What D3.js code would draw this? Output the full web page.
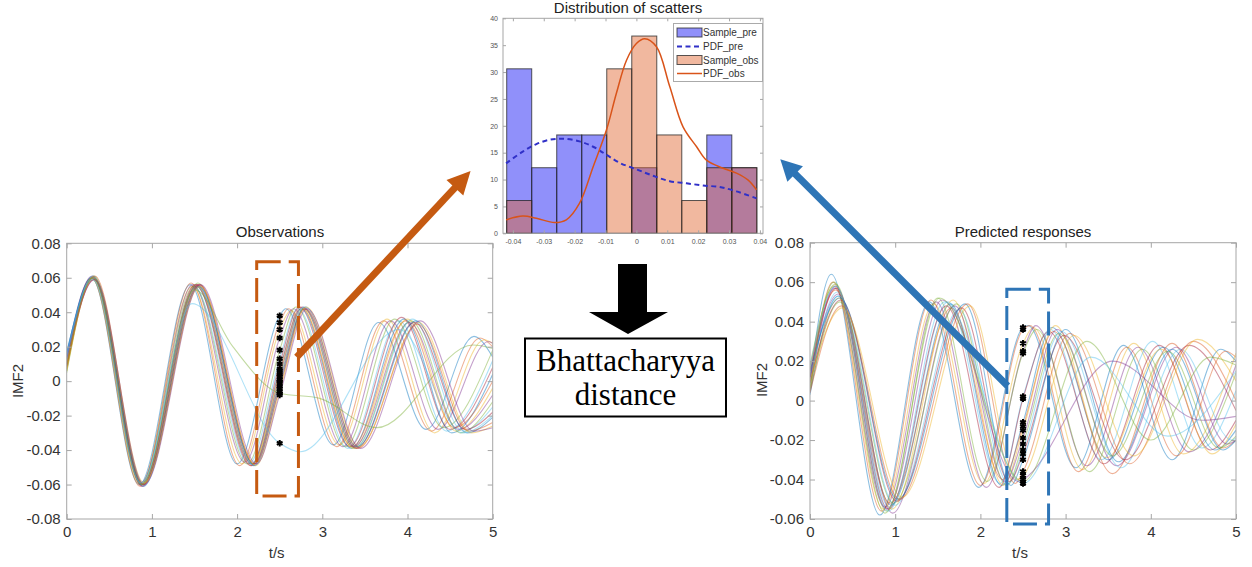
<!DOCTYPE html>
<html><head><meta charset="utf-8">
<script src="https://cdn.jsdelivr.net/npm/d3@7"></script>
<style>
body{margin:0;background:#fff}
svg{display:block}
text{font-family:Arial,"Liberation Sans",sans-serif}
</style>
</head><body>
<svg id="c" width="1252" height="567"></svg>
<script>
// ---------------- DATA ----------------
const lineColors = ["#0072BD","#D95319","#EDB120","#7E2F8E","#77AC30","#4DBEEE","#A2142F"];
const probeTime = 2.5;

// Histogram (Distribution of scatters)
const histBinStart = -0.042;
const histBinWidth = 0.0081;
const histPre = [30.6, 12.2, 18.3, 18.3, 0, 12.2, 0, 0, 18.3, 12.2];
const histObs = [6.1, 0, 0, 0, 30.6, 36.7, 18.3, 6.1, 12.2, 12.2];
const histXTicks = [-0.04,-0.03,-0.02,-0.01,0,0.01,0.02,0.03,0.04];
const histYTicks = [0,5,10,15,20,25,30,35,40];
const pdfPre = [[-0.0422,13.0],[-0.0368,15.2],[-0.0324,16.6],[-0.0281,17.4],[-0.0238,17.6],[-0.0184,17.1],[-0.014,16.1],[-0.0097,14.6],[-0.0054,13.1],[0,11.9],[0.0054,10.7],[0.0108,9.7],[0.0162,9.3],[0.0216,8.9],[0.027,8.6],[0.0324,7.8],[0.0389,6.5]];
const pdfObs = [[-0.0422,2.5],[-0.0368,3.2],[-0.0324,2.8],[-0.0265,2.0],[-0.0227,2.5],[-0.0184,5.6],[-0.014,12.4],[-0.0097,19.2],[-0.0065,26],[-0.0032,32.2],[0,35.3],[0.0027,36.2],[0.0065,34.7],[0.0108,27.3],[0.0151,19.8],[0.0195,16.1],[0.0227,13.6],[0.0281,12.1],[0.0324,11.2],[0.0362,9.9],[0.0389,8.1]];
const legendLabels = ["Sample_pre","PDF_pre","Sample_obs","PDF_obs"];

// Observations: each curve = points [t, IMF2] (extrema + value at t=2.5)
const obsCurves = [
 [[0,0.012],[0.29,0.060],[0.85,-0.060],[1.45,0.056],[2.00,-0.048],[2.5,0.038],[2.57,0.042],[3.13,-0.037],[3.66,0.034],[4.22,-0.028],[4.78,0.026],[5,0.014]],
 [[0,0.010],[0.29,0.060],[0.86,-0.061],[1.46,0.057],[2.03,-0.049],[2.5,0.034],[2.60,0.042],[3.17,-0.038],[3.72,0.035],[4.28,-0.029],[4.85,0.025],[5,0.020]],
 [[0,0.008],[0.30,0.059],[0.86,-0.060],[1.47,0.055],[2.06,-0.048],[2.5,0.030],[2.63,0.041],[3.20,-0.037],[3.76,0.036],[4.32,-0.030],[4.90,0.024],[5,0.022]],
 [[0,0.015],[0.30,0.061],[0.87,-0.059],[1.48,0.056],[2.09,-0.047],[2.5,0.025],[2.66,0.042],[3.24,-0.038],[3.80,0.035],[4.36,-0.028],[4.95,0.023],[5,0.022]],
 [[0,0.006],[0.30,0.060],[0.87,-0.060],[1.49,0.055],[2.12,-0.048],[2.5,0.018],[2.69,0.043],[3.27,-0.038],[3.85,0.036],[4.42,-0.027],[5,0.018]],
 [[0,0.013],[0.31,0.059],[0.88,-0.059],[1.50,0.054],[2.14,-0.048],[2.5,0.013],[2.71,0.042],[3.30,-0.039],[3.90,0.035],[4.46,-0.029],[5,0.012]],
 [[0,0.009],[0.31,0.060],[0.88,-0.061],[1.51,0.056],[2.16,-0.049],[2.5,0.010],[2.73,0.043],[3.32,-0.038],[3.93,0.037],[4.50,-0.028],[5,0.008]],
 [[0,0.016],[0.31,0.061],[0.88,-0.060],[1.52,0.055],[2.17,-0.048],[2.5,0.007],[2.75,0.042],[3.34,-0.039],[3.96,0.036],[4.52,-0.030],[5,0.004]],
 [[0,0.007],[0.31,0.060],[0.89,-0.059],[1.52,0.056],[2.17,-0.049],[2.5,0.006],[2.75,0.043],[3.35,-0.038],[3.98,0.035],[4.55,-0.027],[5,0.000]],
 [[0,0.011],[0.32,0.059],[0.89,-0.060],[1.53,0.055],[2.18,-0.048],[2.5,0.004],[2.76,0.042],[3.36,-0.039],[4.00,0.036],[4.57,-0.029],[5,-0.004]],
 [[0,0.014],[0.32,0.060],[0.89,-0.061],[1.53,0.056],[2.19,-0.049],[2.5,0.003],[2.77,0.043],[3.37,-0.038],[4.02,0.034],[4.60,-0.028],[5,-0.008]],
 [[0,0.005],[0.32,0.061],[0.90,-0.060],[1.54,0.057],[2.19,-0.048],[2.5,0.001],[2.78,0.042],[3.38,-0.039],[4.04,0.035],[4.62,-0.030],[5,-0.012]],
 [[0,0.012],[0.31,0.060],[0.90,-0.059],[1.54,0.055],[2.20,-0.049],[2.5,0.000],[2.78,0.043],[3.39,-0.038],[4.06,0.036],[4.65,-0.029],[5,-0.015]],
 [[0,0.008],[0.32,0.059],[0.89,-0.060],[1.55,0.056],[2.20,-0.048],[2.5,-0.001],[2.79,0.042],[3.40,-0.039],[4.08,0.034],[4.68,-0.028],[5,-0.018]],
 [[0,0.017],[0.32,0.060],[0.90,-0.061],[1.55,0.055],[2.21,-0.049],[2.5,-0.003],[2.80,0.043],[3.41,-0.038],[4.10,0.035],[4.70,-0.030],[5,-0.021]],
 [[0,0.010],[0.33,0.061],[0.90,-0.060],[1.56,0.056],[2.21,-0.048],[2.5,-0.004],[2.80,0.042],[3.42,-0.039],[4.12,0.033],[4.72,-0.029],[5,-0.024]],
 [[0,0.006],[0.32,0.060],[0.91,-0.059],[1.56,0.055],[2.22,-0.049],[2.5,-0.006],[2.81,0.043],[3.43,-0.038],[4.13,0.034],[4.75,-0.030],[5,-0.026]],
 [[0,0.013],[0.33,0.059],[0.91,-0.060],[1.57,0.056],[2.23,-0.048],[2.5,-0.008],[2.82,0.042],[3.45,-0.039],[4.15,0.035],[4.78,-0.029],[5,-0.027]],
 [[0,0.009],[0.31,0.060],[0.88,-0.060],[1.50,0.053],[1.95,0.020],[2.5,-0.007],[2.97,-0.010],[3.64,-0.027],[4.77,0.021],[5,0.019]],
 [[0,0.015],[0.30,0.059],[0.87,-0.059],[1.47,0.045],[2.5,-0.036],[2.74,-0.041],[3.90,0.030],[4.65,-0.030],[5,-0.020]]
];

// Predicted responses
const preCurves = [
 [[0,0.010],[0.25,0.064],[0.82,-0.058],[1.40,0.050],[1.98,-0.044],[2.5,0.037],[2.56,0.038],[3.12,-0.034],[3.68,0.028],[4.25,-0.030],[4.82,0.026],[5,0.020]],
 [[0,0.006],[0.27,0.060],[0.84,-0.056],[1.42,0.051],[2.00,-0.043],[2.5,0.036],[2.58,0.038],[3.15,-0.036],[3.72,0.027],[4.30,-0.028],[4.88,0.025],[5,0.022]],
 [[0,0.014],[0.28,0.058],[0.86,-0.055],[1.45,0.049],[2.04,-0.042],[2.5,0.029],[2.62,0.037],[3.20,-0.035],[3.80,0.029],[4.38,-0.027],[5,0.024]],
 [[0,0.004],[0.29,0.057],[0.88,-0.054],[1.48,0.050],[2.07,-0.044],[2.5,0.025],[2.65,0.038],[3.25,-0.033],[3.85,0.027],[4.45,-0.026],[5,0.018]],
 [[0,0.018],[0.30,0.059],[0.90,-0.056],[1.50,0.052],[2.08,-0.041],[2.5,0.024],[2.66,0.036],[3.28,-0.036],[3.90,0.026],[4.50,-0.025],[5,0.014]],
 [[0,0.008],[0.32,0.055],[0.93,-0.054],[1.62,0.050],[2.23,-0.042],[2.5,0.002],[2.82,0.036],[3.42,-0.030],[4.02,0.030],[4.60,-0.024],[5,0.005]],
 [[0,0.012],[0.31,0.057],[0.92,-0.055],[1.60,0.048],[2.22,-0.044],[2.5,0.001],[2.80,0.035],[3.45,-0.032],[4.10,0.028],[4.70,-0.025],[5,-0.010]],
 [[0,0.003],[0.33,0.053],[0.95,-0.053],[1.65,0.049],[2.25,-0.043],[2.5,-0.011],[2.84,0.037],[3.50,-0.030],[4.15,0.027],[4.75,-0.025],[5,-0.015]],
 [[0,0.016],[0.30,0.056],[0.94,-0.052],[1.66,0.047],[2.26,-0.040],[2.5,-0.013],[2.86,0.035],[3.55,-0.037],[4.25,0.029],[4.85,-0.024],[5,-0.020]],
 [[0,0.007],[0.34,0.052],[0.96,-0.055],[1.68,0.051],[2.27,-0.043],[2.5,-0.015],[2.88,0.038],[3.48,-0.029],[4.12,0.026],[4.72,-0.027],[5,-0.012]],
 [[0,0.011],[0.33,0.054],[0.97,-0.057],[1.70,0.048],[2.29,-0.041],[2.5,-0.019],[2.90,0.036],[3.60,-0.033],[4.30,0.027],[4.90,-0.022],[5,-0.020]],
 [[0,0.005],[0.35,0.050],[0.98,-0.052],[1.72,0.049],[2.31,-0.043],[2.5,-0.022],[2.92,0.034],[3.55,-0.028],[4.20,0.025],[4.80,-0.024],[5,-0.018]],
 [[0,0.013],[0.34,0.053],[1.00,-0.053],[1.75,0.046],[2.33,-0.042],[2.5,-0.025],[2.95,0.035],[3.65,-0.034],[4.35,0.026],[4.95,-0.020],[5,-0.019]],
 [[0,0.009],[0.36,0.051],[1.02,-0.051],[1.78,0.047],[2.34,-0.041],[2.5,-0.027],[2.98,0.033],[3.70,-0.030],[4.45,0.028],[5,-0.005]],
 [[0,0.015],[0.35,0.052],[1.03,-0.050],[1.82,0.049],[2.36,-0.043],[2.5,-0.030],[3.00,0.036],[3.62,-0.031],[4.25,0.026],[4.85,-0.025],[5,-0.020]],
 [[0,0.004],[0.37,0.048],[1.05,-0.050],[1.85,0.049],[2.41,-0.042],[2.5,-0.036],[3.05,0.034],[3.75,-0.032],[4.50,0.030],[5,0.000]],
 [[0,0.010],[0.38,0.047],[1.08,-0.049],[1.88,0.048],[2.43,-0.040],[2.5,-0.038],[3.10,0.033],[3.80,-0.028],[4.55,0.031],[5,0.010]],
 [[0,0.012],[0.30,0.058],[0.90,-0.055],[1.55,0.051],[2.45,-0.041],[2.5,-0.040],[3.55,0.020],[4.60,-0.010],[5,-0.008]],
 [[0,0.006],[0.28,0.060],[0.88,-0.057],[1.52,0.052],[2.5,-0.041],[3.25,0.030],[4.00,-0.020],[4.70,0.022],[5,0.018]],
 [[0,0.017],[0.30,0.058],[0.92,-0.056],[1.58,0.050],[2.5,-0.042],[3.30,0.022],[4.20,-0.018],[5,0.015]]
];

const respXTicks = [0,1,2,3,4,5];
const obsYTicks = [-0.08,-0.06,-0.04,-0.02,0,0.02,0.04,0.06,0.08];
const preYTicks = [-0.06,-0.04,-0.02,0,0.02,0.04,0.06,0.08];

// ---------------- DRAW ----------------
const svg = d3.select("#c");
const axisColor = "#a6a6a6", labelColor = "#333";
const fmt2 = d => d === 0 ? "0" : d3.format(".2f")(d).replace("−","-");

function frame(g, x, y, xTicks, yTicks, fx, fy, fs, tl, padX, padY) {
  const [x0,x1] = x.range(), [y0,y1] = y.range();
  const mk = (ax, tr, labels) => {
    const a = g.append("g").attr("transform", tr).call(ax);
    a.select(".domain").remove();
    a.selectAll("line").attr("stroke", axisColor);
    a.selectAll("text").attr("fill", labelColor).style("font-size", fs + "px");
    if (!labels) a.selectAll("text").remove();
  };
  mk(d3.axisBottom(x).tickValues(xTicks).tickFormat(fx).tickSize(-tl).tickPadding(padX), `translate(0,${y0})`, true);
  mk(d3.axisTop(x).tickValues(xTicks).tickSize(-tl), `translate(0,${y1})`, false);
  mk(d3.axisLeft(y).tickValues(yTicks).tickFormat(fy).tickSize(-tl).tickPadding(padY), `translate(${x0},0)`, true);
  mk(d3.axisRight(y).tickValues(yTicks).tickSize(-tl), `translate(${x1},0)`, false);
  g.append("rect").attr("x", x0).attr("y", y1).attr("width", x1 - x0).attr("height", y0 - y1)
    .attr("fill", "none").attr("stroke", axisColor).attr("stroke-width", 1);
}

const xL = d3.scaleLinear([0,5],[66.7,492.7]);
const yL = d3.scaleLinear([-0.08,0.08],[519,243.3]);
const xR = d3.scaleLinear([0,5],[810,1236]);
const yR = d3.scaleLinear([-0.06,0.08],[519,242.7]);
const xH = d3.scaleLinear([-0.0432,0.0410],[503,763]);
const yH = d3.scaleLinear([0,40],[233.3,18.3]);

const defs = svg.append("defs");
function clip(id, x, y) {
  defs.append("clipPath").attr("id", id).append("rect")
    .attr("x", x.range()[0]).attr("y", y.range()[1])
    .attr("width", x.range()[1]-x.range()[0]).attr("height", y.range()[0]-y.range()[1]);
}
clip("cl", xL, yL); clip("cr", xR, yR);

function responsePlot(curves, x, y, yTicks, clipId, title, titleX) {
  const g = svg.append("g");
  const line = d3.line().x(d => x(d[0])).y(d => y(d[1])).curve(d3.curveMonotoneX);
  g.append("g").attr("clip-path", `url(#${clipId})`).selectAll("path").data(curves).join("path")
    .attr("d", line).attr("fill", "none")
    .attr("stroke", (d,i) => lineColors[i % lineColors.length])
    .attr("stroke-width", 1.1).attr("stroke-opacity", 0.45);
  frame(g, x, y, respXTicks, yTicks, d3.format("d"), fmt2, 15, 5, 7, 6);
  const pts = curves.map(c => c.find(p => p[0] === probeTime)).filter(Boolean);
  g.selectAll("path.pt").data(pts).join("path").attr("class","pt")
    .attr("transform", d => `translate(${x(d[0])},${y(d[1])})`)
    .attr("d", d3.symbol(d3.symbolAsterisk, 30))
    .attr("fill", "none").attr("stroke", "#000").attr("stroke-width", 2);
  g.append("text").attr("x", titleX).attr("y", 237).attr("text-anchor","middle")
    .attr("fill","#222").style("font-size","15px").text(title);
  g.append("text").attr("x", (x.range()[0]+x.range()[1])/2 - 3).attr("y", 558).attr("text-anchor","middle")
    .attr("fill","#333").style("font-size","15px").text("t/s");
  return g;
}
responsePlot(obsCurves, xL, yL, obsYTicks, "cl", "Observations", 280);
responsePlot(preCurves, xR, yR, preYTicks, "cr", "Predicted responses", 1023);
svg.append("text").attr("transform","translate(23,381) rotate(-90)").attr("text-anchor","middle")
  .attr("fill","#333").style("font-size","15px").text("IMF2");
svg.append("text").attr("transform","translate(767,380) rotate(-90)").attr("text-anchor","middle")
  .attr("fill","#333").style("font-size","15px").text("IMF2");

// ---- Histogram ----
const gh = svg.append("g");
const bins = d => d.map((v,i) => ({x0: histBinStart + i*histBinWidth, x1: histBinStart + (i+1)*histBinWidth, v}));
const barSel = (data, fill, op) => gh.append("g").selectAll("rect").data(bins(data).filter(b => b.v > 0)).join("rect")
  .attr("x", b => xH(b.x0)).attr("width", b => xH(b.x1) - xH(b.x0))
  .attr("y", b => yH(b.v)).attr("height", b => yH(0) - yH(b.v))
  .attr("fill", fill).attr("fill-opacity", op).attr("stroke", "#222").attr("stroke-opacity", 0.75).attr("stroke-width", 1);
barSel(histPre, "#1414f5", 0.47);
barSel(histObs, "#e0622a", 0.45);
const pdfLine = d3.line().x(d => xH(d[0])).y(d => yH(d[1])).curve(d3.curveCatmullRom);
gh.append("path").attr("d", pdfLine(pdfPre)).attr("fill","none").attr("stroke","#3030c8")
  .attr("stroke-width", 2).attr("stroke-dasharray","5,3.5");
gh.append("path").attr("d", pdfLine(pdfObs)).attr("fill","none").attr("stroke","#d95319")
  .attr("stroke-width", 1.5);
frame(gh, xH, yH, histXTicks, histYTicks, fmt2, d3.format("d"), 7, 3, 6, 5);
gh.selectAll("text").attr("fill","#555");
gh.append("text").attr("x", 628).attr("y", 13).attr("text-anchor","middle")
  .attr("fill","#222").style("font-size","15px").text("Distribution of scatters");

const lg = gh.append("g");
lg.append("rect").attr("x",673.5).attr("y",23.5).attr("width",89).attr("height",58)
  .attr("fill","#fff").attr("stroke","#aaa");
const rows = [32.5, 46.5, 60, 73.5];
lg.append("rect").attr("x",677).attr("y",rows[0]-4.5).attr("width",25).attr("height",9)
  .attr("fill","#1414f5").attr("fill-opacity",0.47).attr("stroke","#222").attr("stroke-opacity",0.75);
lg.append("line").attr("x1",677).attr("x2",702).attr("y1",rows[1]).attr("y2",rows[1])
  .attr("stroke","#3030c8").attr("stroke-width",2).attr("stroke-dasharray","5,3.5");
lg.append("rect").attr("x",677).attr("y",rows[2]-4.5).attr("width",25).attr("height",9)
  .attr("fill","#e0622a").attr("fill-opacity",0.45).attr("stroke","#222").attr("stroke-opacity",0.75);
lg.append("line").attr("x1",677).attr("x2",702).attr("y1",rows[3]).attr("y2",rows[3])
  .attr("stroke","#d95319").attr("stroke-width",1.5);
lg.selectAll("text.l").data(legendLabels).join("text").attr("class","l")
  .attr("x",703).attr("y",(d,i) => rows[i] + 3.5).attr("fill","#333").style("font-size","10px").text(d => d);

// ---- Annotations ----
function dashedBox(x, y, t0, t1, v0, v1, color) {
  svg.append("rect").attr("x", x(t0)).attr("y", y(v1)).attr("width", x(t1)-x(t0)).attr("height", y(v0)-y(v1))
    .attr("fill","none").attr("stroke", color).attr("stroke-width", 3).attr("stroke-dasharray","24,8");
}
dashedBox(xL, yL, 2.23, 2.72, -0.0667, 0.0693, "#c55a11");
dashedBox(xR, yR, 2.31, 2.80, -0.0625, 0.0564, "#2e75b6");

function arrow(x1, y1, x2, y2, color, w, hl, hw) {
  const a = Math.atan2(y2-y1, x2-x1), c = Math.cos(a), s = Math.sin(a);
  const bx = x2 - hl*c, by = y2 - hl*s;
  svg.append("line").attr("x1",x1).attr("y1",y1).attr("x2",bx+2*c).attr("y2",by+2*s)
    .attr("stroke",color).attr("stroke-width",w);
  svg.append("path").attr("d", `M${x2},${y2}L${bx - hw*s},${by + hw*c}L${bx + hw*s},${by - hw*c}Z`).attr("fill",color);
}
arrow(xL(2.70), yL(0.014), xH(-0.0537), yH(11.6), "#c55a11", 7, 23, 11.5);
arrow(xR(2.32), yR(0.0074), xH(0.0466), yH(13.8), "#2e75b6", 7, 21, 11);

svg.append("path").attr("d","M618,264L647,264L647,312L668,312L628,334L589,312L618,312Z").attr("fill","#000");
svg.append("rect").attr("x",525).attr("y",338.5).attr("width",201).attr("height",78)
  .attr("fill","#fff").attr("stroke","#000").attr("stroke-width",2);
svg.append("text").attr("x",625.5).attr("y",371).attr("text-anchor","middle")
  .style("font-family","'Liberation Serif','Times New Roman',serif").style("font-size","31px").attr("fill","#000").text("Bhattacharyya");
svg.append("text").attr("x",625.5).attr("y",405).attr("text-anchor","middle")
  .style("font-family","'Liberation Serif','Times New Roman',serif").style("font-size","31px").attr("fill","#000").text("distance");
</script>
</body></html>
